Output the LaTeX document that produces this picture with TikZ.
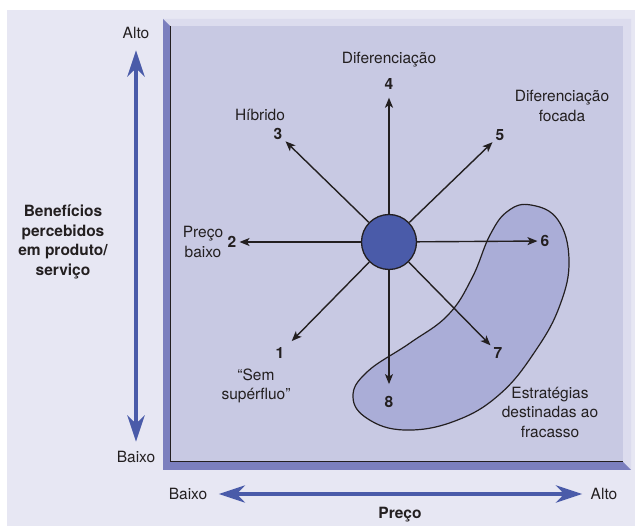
\documentclass[tikz,border=0pt]{standalone}
\usepackage{fontspec}
\setmainfont{TeX Gyre Heros}
\usetikzlibrary{arrows.meta}
\definecolor{pagebg}{HTML}{E7E7F3}
\definecolor{panel}{HTML}{C8C9E3}
\definecolor{blobfill}{HTML}{AAADD7}
\definecolor{bevdark}{HTML}{7B7FBE}
\definecolor{bevlight}{HTML}{DCDCEE}
\definecolor{axblue}{HTML}{4A5BA9}
\definecolor{ink}{HTML}{231F20}

\begin{document}
\begin{tikzpicture}[
    x=1pt, y=-1pt,
    >={Stealth[length=10pt, width=8pt, inset=2.5pt]},
    every node/.style={text=ink, font=\fontsize{15.5}{19.5}\selectfont},
    num/.style={font=\fontsize{15.5}{19.5}\selectfont\bfseries, inner sep=3pt},
    lbl/.style={align=center},
    ray/.style={->, ink, line width=1.4pt},
    axis/.style={{Stealth[length=26pt, width=17pt, inset=8pt]}-{Stealth[length=26pt, width=17pt, inset=8pt]},
      axblue, line width=4.5pt},
  ]

  % ===== Page background =====
  \useasboundingbox (0,0) rectangle (635,526);
  \fill[pagebg] (7,10) rectangle (635,526);

  % ===== Bevelled frame and panel =====
  \fill[bevlight] (163,19) -- (631,19) -- (631,470) -- (623,462) -- (623,26) -- (170,26) -- cycle;
  \fill[bevdark] (163,19) -- (170,26) -- (170,462) -- (623,462) -- (631,470) -- (163,470) -- cycle;
  \fill[panel] (170,26) rectangle (623,462);
  \draw[ink, line width=1pt] (170,26) -- (170,462) -- (623,462);

  % ===== Failure region =====
  \filldraw[fill=blobfill, draw=ink, line width=1.2pt]
    plot[smooth cycle, tension=0.7] coordinates {
      (531,205) (558,220) (569,260) (560,305) (536,350) (500,394) (455,421)
      (405,430) (368,419) (353,397) (367,372) (410,343) (448,315) (472,278)
      (490,235) (508,211)};

  % ===== Strategy numbers =====
  \node[num] (n1) at (280,353) {1};
  \node[num] (n2) at (232,242) {2};
  \node[num] (n3) at (278,134) {3};
  \node[num] (n4) at (389,84) {4};
  \node[num] (n5) at (500,135) {5};
  \node[num] (n6) at (545,241) {6};
  \node[num] (n7) at (498,353) {7};
  \node[num] (n8) at (389,402) {8};

  % Hub
  \node[circle, draw=ink, fill=axblue, line width=1.3pt, minimum size=55pt] (hub) at (389,242) {};

  % Rays
  \foreach \n/\g in {1/6,2/0,3/0,4/5,5/0,6/0,7/0,8/9}
    \draw[ray, shorten >=\g pt] (hub) -- (n\n);

  % ===== Strategy labels =====
  \node[lbl] (l4) at (389,60) {Diferenciação};
  \node[lbl] (l5) at (562,106) {Diferenciação\\focada};
  \node[lbl] (l3) at (260,115) {Híbrido};
  \node[lbl] (l2) at (203,242) {Preço\\baixo};
  \node[lbl] (l1) at (256,386) {“Sem\\supérfluo”};
  \node[lbl] (lf) at (550,412) {Estratégias\\destinadas ao\\fracasso};

  % ===== Vertical axis =====
  \node (yhi) at (136,33) {Alto};
  \node (ylo) at (136,457) {Baixo};
  \draw[axis, shorten <=8pt, shorten >=6pt] (yhi) -- (ylo);
  \node[lbl, font=\fontsize{15.5}{19.5}\selectfont\bfseries] (ytitle) at (63,242)
    {Benefícios\\percebidos\\em produto/\\serviço};

  % ===== Horizontal axis =====
  \node (xlo) at (188,494) {Baixo};
  \node (xhi) at (604,494) {Alto};
  \draw[axis, shorten <=8pt, shorten >=5pt] (xlo) -- (xhi);
  \node[font=\fontsize{15.5}{19.5}\selectfont\bfseries] (xtitle) at (400,515) {Preço};

\end{tikzpicture}
\end{document}
